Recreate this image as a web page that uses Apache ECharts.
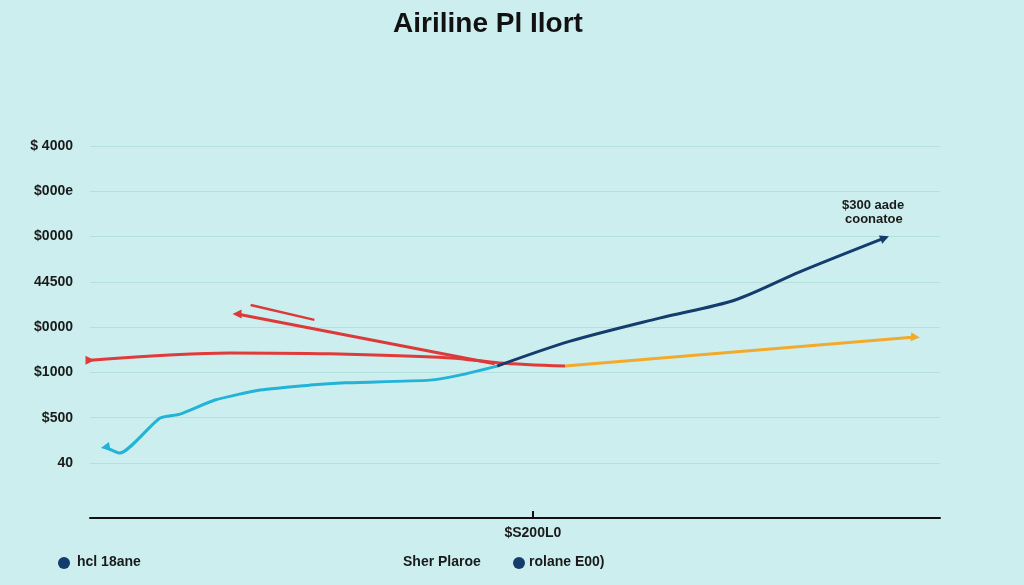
<!DOCTYPE html>
<html><head><meta charset="utf-8">
<script src="https://cdn.jsdelivr.net/npm/echarts@6/dist/echarts.min.js"></script>
<style>html,body{margin:0;padding:0;background:#cdeeee;}#c{width:1024px;height:585px;}</style>
</head><body><div id="c"></div>
<script>
const yTickLabels = ['40', '$500', '$1000', '$0000', '44500', '$0000', '$000e', '$ 4000'];
const xTickLabels = ['$S200L0'];
const xTickValues = [52.1];

const redLongX = [0, 16.5, 28.2, 42.4, 48.2, 55.9];
const redLongY = [2.27, 2.43, 2.41, 2.32, 2.21, 2.14];
const orangeX = [55.9, 97.1];
const orangeY = [2.14, 2.78];
const redSlopeX = [17.3, 47.6];
const redSlopeY = [3.29, 2.19];
const redShortX = [18.9, 26.4];
const redShortY = [3.49, 3.16];
const cyanX = [1.8, 3.5, 8.2, 10.6, 14.7, 20, 25.9, 30, 40, 43.5, 47.9];
const cyanY = [0.35, 0.22, 0.99, 1.08, 1.39, 1.61, 1.72, 1.77, 1.83, 1.94, 2.14];
const navyX = [47.9, 56.5, 67, 75.9, 83.5, 93.5];
const navyY = [2.14, 2.69, 3.2, 3.6, 4.22, 4.97];

function pairs(xs, ys, startArrow, endArrow) {
  return xs.map((x, i) => {
    const item = { value: [x, ys[i]] };
    if (i === 0 && startArrow !== null) { item.symbol = 'triangle'; item.symbolSize = 9; item.symbolRotate = startArrow; }
    if (i === xs.length - 1 && endArrow !== null) { item.symbol = 'triangle'; item.symbolSize = 9; item.symbolRotate = endArrow; }
    return item;
  });
}

const chart = echarts.init(document.getElementById('c'));
const lineBase = { type: 'line', symbol: 'none', showSymbol: true, smooth: 0.3, z: 3 };
chart.setOption({
  backgroundColor: '#cdeeee',
  animation: false,
  title: {
    text: 'Airiline Pl Ilort', left: 483, top: 5, textAlign: 'center',
    textStyle: { fontFamily: 'Liberation Sans', fontWeight: 'bold', fontSize: 28, color: '#111' }
  },
  grid: { left: 90, right: 84, top: 146, bottom: 122 },
  xAxis: {
    type: 'value', min: 0, max: 100, offset: 55,
    axisLine: { show: true, onZero: false, lineStyle: { color: '#111', width: 2 } },
    axisTick: { show: true, customValues: xTickValues, length: 7, inside: true, lineStyle: { color: '#111', width: 2 } },
    axisLabel: { customValues: xTickValues, formatter: (v) => xTickLabels[0], margin: 8,
      fontFamily: 'Liberation Sans', fontWeight: 'bold', fontSize: 14, color: '#1a1a1a' },
    splitLine: { show: false }
  },
  yAxis: {
    type: 'value', min: 0, max: 7, interval: 1,
    axisLine: { show: false }, axisTick: { show: false },
    axisLabel: { formatter: (v) => yTickLabels[Math.round(v)], margin: 17,
      fontFamily: 'Liberation Sans', fontWeight: 'bold', fontSize: 14, color: '#1a1a1a' },
    splitLine: { lineStyle: { color: '#b6dfe0', width: 1 } }
  },
  series: [
    Object.assign({}, lineBase, { name: 'red', data: pairs(redLongX, redLongY, -90, null), lineStyle: { color: '#e03a3a', width: 3 }, itemStyle: { color: '#e03a3a' } }),
    Object.assign({}, lineBase, { name: 'orange', data: pairs(orangeX, orangeY, null, -95), smooth: false, lineStyle: { color: '#f2aa2c', width: 3 }, itemStyle: { color: '#f2aa2c' } }),
    Object.assign({}, lineBase, { name: 'red2', data: pairs(redSlopeX, redSlopeY, 90, null), smooth: false, lineStyle: { color: '#dc3a3a', width: 3 }, itemStyle: { color: '#dc3a3a' } }),
    Object.assign({}, lineBase, { name: 'red3', data: pairs(redShortX, redShortY, null, null), smooth: false, lineStyle: { color: '#dc3a3a', width: 2.5 } }),
    Object.assign({}, lineBase, { name: 'cyan', data: pairs(cyanX, cyanY, 100, null), smooth: 0.2, lineStyle: { color: '#22b3d6', width: 3 }, itemStyle: { color: '#22b3d6' } }),
    Object.assign({}, lineBase, { name: 'navy', data: pairs(navyX, navyY, null, -68), lineStyle: { color: '#143d6e', width: 3 }, itemStyle: { color: '#143d6e' }, z: 4 })
  ],
  graphic: [
    { type: 'text', left: 842, top: 199, style: { text: '$300 aade', font: 'bold 13px "Liberation Sans"', fill: '#1a1a1a' } },
    { type: 'text', left: 845, top: 213, style: { text: 'coonatoe', font: 'bold 13px "Liberation Sans"', fill: '#1a1a1a' } },
    { type: 'circle', shape: { cx: 64, cy: 563, r: 6 }, style: { fill: '#143d6e' } },
    { type: 'text', left: 77, top: 555, style: { text: 'hcl 18ane', font: 'bold 14px "Liberation Sans"', fill: '#1a1a1a' } },
    { type: 'text', left: 403, top: 555, style: { text: 'Sher Plaroe', font: 'bold 14px "Liberation Sans"', fill: '#1a1a1a' } },
    { type: 'circle', shape: { cx: 519, cy: 563, r: 6 }, style: { fill: '#143d6e' } },
    { type: 'text', left: 529, top: 555, style: { text: 'rolane E00)', font: 'bold 14px "Liberation Sans"', fill: '#1a1a1a' } }
  ]
});
</script>
</body></html>
